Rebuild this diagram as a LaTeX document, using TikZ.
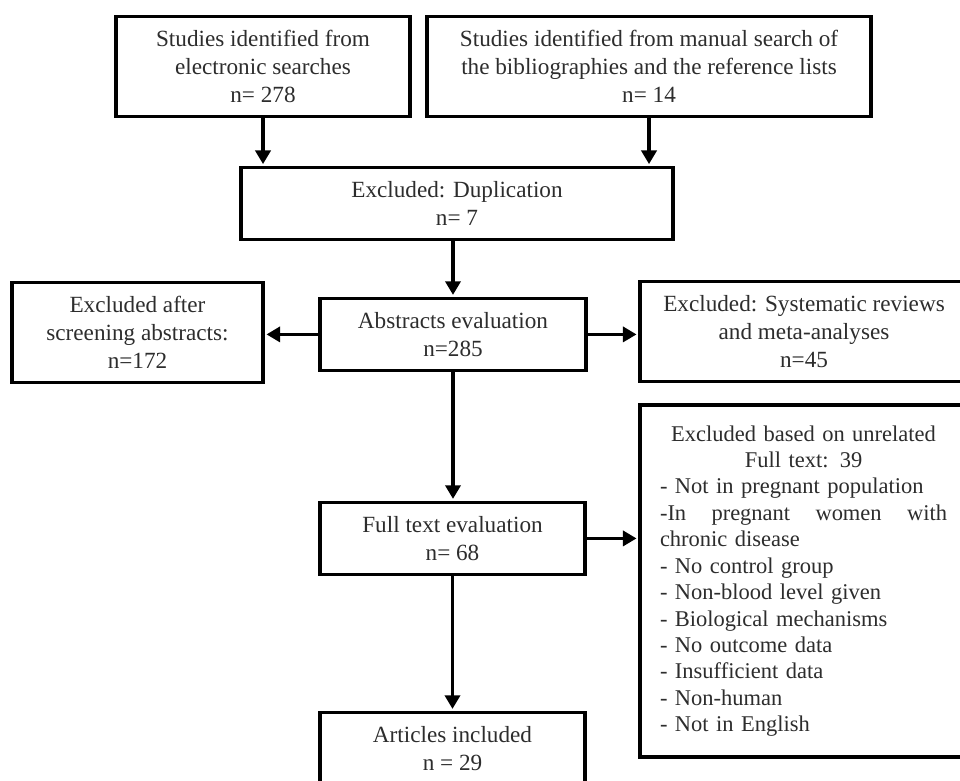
\documentclass[tikz,border=0pt]{standalone}
\usepackage{fontspec}
\setmainfont{Liberation Serif}
\usetikzlibrary{arrows.meta,positioning}
\definecolor{inkgray}{RGB}{45,45,45}
\tikzstyle{arrow} = [
    line width=2.2pt,
    -{Triangle[length=0.34cm,width=0.38cm]},
    shorten >=1.2pt,
    draw=black
]
\tikzstyle{stage} = [
    rectangle,
    draw=black,
    line width=2.6pt,
    fill=white,
    align=center,
    text=inkgray,
    font=\fontsize{16.5}{19.8}\selectfont
]

\begin{document}
\begin{tikzpicture}[
                tall/.style={
                    minimum height=2.5cm
                },
                flat/.style={
                    minimum height=1.8cm
                }
            ]
                \useasboundingbox (0,0) rectangle (24,19.5);
                \clip (0,0) rectangle (24,19.5);
                \node[stage, tall, minimum width=7.35cm] (elec) at (6.575,17.84) {Studies identified from\\electronic searches\\n= 278};
                \node[stage, tall, minimum width=11.1cm] (manual) at (16.225,17.84) {Studies identified from manual search of\\the bibliographies and the reference lists\\n= 14};
                \node[stage, flat, minimum width=10.8cm] (dup) at (11.425,14.41) {Excluded: Duplication\\n= 7};
                \node[stage, flat, minimum width=6.65cm] (abs) at (11.325,11.14) {Abstracts evaluation\\n=285};
                \node[stage, tall, minimum width=6.275cm] (scr) at (3.4375,11.19) {Excluded after\\screening abstracts:\\n=172};
                \node[stage, tall, minimum width=8.2cm] (sysrev) at (20.1,11.21) {Excluded: Systematic reviews\\and meta-analyses\\n=45};
                \node[stage, flat, minimum width=6.625cm] (full) at (11.3125,6.04) {Full text evaluation\\n= 68};
                \node[stage, flat, minimum width=6.625cm] (incl) at (11.3125,0.79) {Articles included\\n = 29};
                \node[stage, minimum height=8.8cm, text width=7.175cm, inner xsep=0.5cm, align=left,
                      font=\fontsize{16}{18.8}\selectfont] (unrel) at (20.0875,4.975) {%
                    \makebox[7.175cm]{Excluded based on unrelated}\\
                    \makebox[7.175cm]{Full text: 39}\\
                    - Not in pregnant population\\
                    \makebox[7.175cm][l]{-In\hfill pregnant\hfill women\hfill with}\\
                    chronic disease\\
                    - No control group\\
                    - Non-blood level given\\
                    - Biological mechanisms\\
                    - No outcome data\\
                    - Insufficient data\\
                    - Non-human\\
                    - Not in English};
                \draw[arrow] (elec.south) -- (elec.south |- dup.north);
                \draw[arrow] (manual.south) -- (manual.south |- dup.north);
                \draw[arrow] (abs.north |- dup.south) -- (abs.north);
                \draw[arrow] (abs.west) -- (abs.west -| scr.east);
                \draw[arrow] (abs.east) -- (abs.east -| sysrev.west);
                \draw[arrow] (abs.south) -- (abs.south |- full.north);
                \draw[arrow] (full.east) -- (full.east -| unrel.west);
                \draw[arrow] (full.south) -- (full.south |- incl.north);
            \end{tikzpicture}
\end{document}
